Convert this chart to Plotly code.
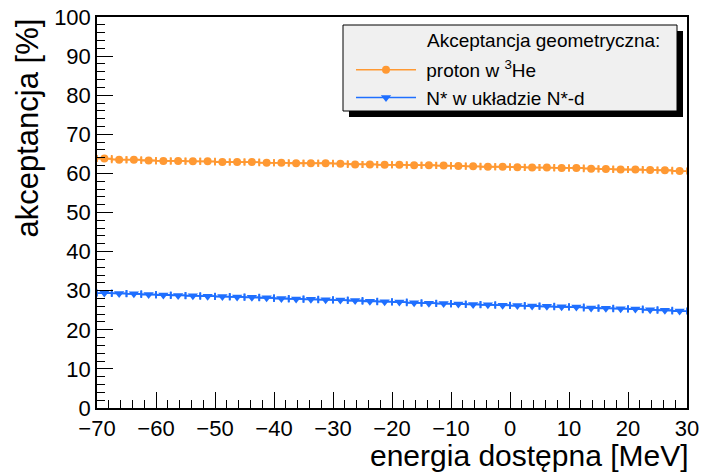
import plotly.graph_objects as go

# Data: bin centres of 2.5 MeV bins from -70 to 30 MeV
energy = [-68.75 + 2.5 * i for i in range(40)]
x_err = [1.25] * 40

proton_he3 = [63.8, 63.5, 63.5, 63.3, 63.2, 63.2, 63.1, 63.1, 62.9, 62.9,
              62.9, 62.7, 62.7, 62.6, 62.6, 62.6, 62.5, 62.3, 62.3, 62.2,
              62.2, 62.1, 62.1, 62.0, 61.9, 61.8, 61.7, 61.7, 61.6, 61.5,
              61.5, 61.4, 61.4, 61.2, 61.1, 61.0, 61.0, 60.9, 60.8, 60.6]

nstar_nd = [29.4, 29.3, 29.2, 29.0, 28.9, 28.8, 28.7, 28.6, 28.5, 28.4,
            28.3, 28.2, 28.0, 27.9, 27.8, 27.7, 27.6, 27.5, 27.3, 27.2,
            27.1, 26.9, 26.8, 26.7, 26.6, 26.5, 26.4, 26.3, 26.2, 26.1,
            26.0, 25.9, 25.8, 25.6, 25.5, 25.4, 25.3, 25.1, 25.0, 24.8]

series_names = ["\u00a0proton w <sup>3</sup>He", "\u00a0N* w układzie N*-d"]
legend_header = "Akceptancja geometryczna:"
x_title = "energia dostępna [MeV]"
y_title = "akceptancja [%]"

ORANGE = "#ff9933"
BLUE = "#1f6fff"
FONT = "Liberation Sans"

fig = go.Figure()
fig.add_trace(go.Scatter(
    x=energy, y=proton_he3, name=series_names[0], mode="lines+markers",
    line=dict(color=ORANGE, width=1.5),
    marker=dict(symbol="circle", size=8, color=ORANGE),
    error_x=dict(type="data", array=x_err, color=ORANGE, thickness=1.8, width=3.5),
))
fig.add_trace(go.Scatter(
    x=energy, y=nstar_nd, name=series_names[1], mode="lines+markers",
    line=dict(color=BLUE, width=1.5),
    marker=dict(symbol="triangle-down", size=9, color=BLUE),
    error_x=dict(type="data", array=x_err, color=BLUE, thickness=1.8, width=3.5),
))

# plot area in pixels: x 97..687, y 17..408
L, R, T, B = 97, 687, 17, 408
W, H = R - L, B - T

def px(xp):
    return (xp - L) / W

def py(yp):
    return (B - yp) / H

axis_common = dict(
    showline=True, linecolor="black", linewidth=1.5, mirror=True,
    ticks="inside", ticklen=16, tickwidth=1.2, tickcolor="black",
    showgrid=False, zeroline=False, automargin=False,
    tickfont=dict(family=FONT, size=22, color="black"),
)

fig.update_xaxes(range=[-70, 30], dtick=10, tick0=0,
                 minor=dict(ticks="inside", ticklen=8, dtick=2, tickwidth=1.2, tickcolor="black"),
                 **axis_common)
fig.update_yaxes(range=[0, 100], dtick=10, tick0=0,
                 minor=dict(ticks="inside", ticklen=8, dtick=2, tickwidth=1.2, tickcolor="black"),
                 **axis_common)

shapes = [
    # legend shadow
    dict(type="rect", xref="paper", yref="paper", layer="above",
         x0=px(349), x1=px(683), y0=py(117), y1=py(31),
         fillcolor="black", line=dict(width=0)),
    # legend box
    dict(type="rect", xref="paper", yref="paper", layer="above",
         x0=px(343), x1=px(677), y0=py(111), y1=py(25),
         fillcolor="#f0f0f0", line=dict(color="black", width=1)),
]

annotations = [
    dict(text=y_title, xref="paper", yref="paper", x=px(27), y=py(17),
         xanchor="center", yanchor="top", textangle=-90, showarrow=False,
         font=dict(family=FONT, size=31, color="black")),
    dict(text=x_title, xref="paper", yref="paper", x=px(691), y=py(455),
         xanchor="right", yanchor="middle", showarrow=False,
         font=dict(family=FONT, size=30, color="black")),
    dict(text=legend_header, xref="paper", yref="paper", x=px(425), y=py(41),
         xanchor="left", yanchor="middle", showarrow=False,
         font=dict(family=FONT, size=19, color="black")),
]

fig.update_layout(
    width=702, height=473,
    margin=dict(l=L, r=702 - R, t=T, b=473 - B, autoexpand=False),
    paper_bgcolor="white", plot_bgcolor="white",
    shapes=shapes, annotations=annotations,
    showlegend=True,
    legend=dict(x=px(351), y=py(51), xanchor="left", yanchor="top",
                bgcolor="rgba(0,0,0,0)", borderwidth=0,
                font=dict(family=FONT, size=19, color="black"),
                itemwidth=60),
    font=dict(family=FONT),
)

fig.write_html("out.html")
